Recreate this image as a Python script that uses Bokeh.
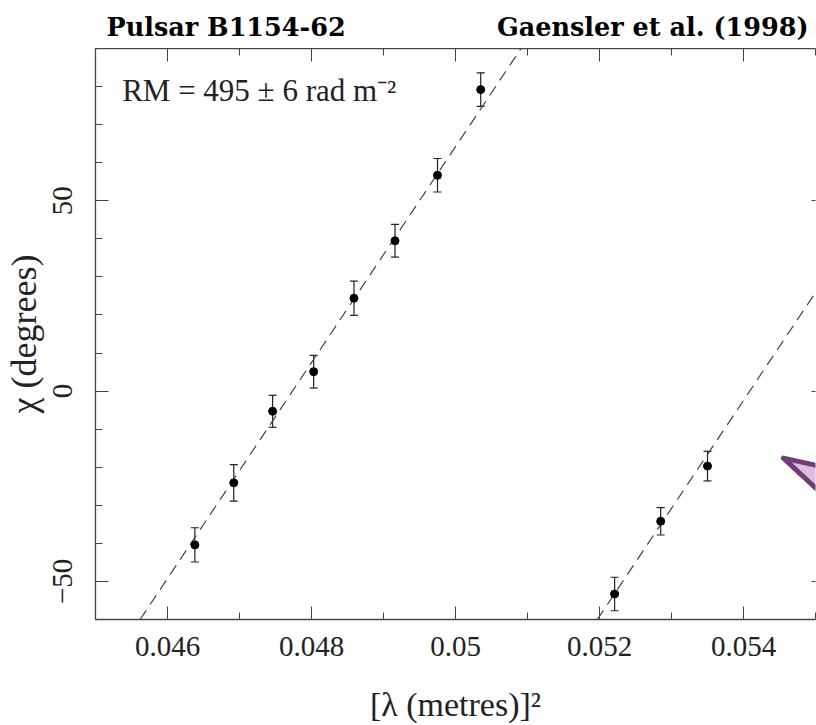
import numpy as np
from bokeh.plotting import figure
from bokeh.layouts import column
from bokeh.models import (ColumnDataSource, Whisker, TeeHead, LinearAxis, Label,
                          SingleIntervalTicker, CustomJSTickFormatter, Range1d)
from bokeh.core.properties import value
from bokeh.embed import file_html
from bokeh.resources import INLINE

# ---- data ----
lam2 = [0.04638, 0.04692, 0.04746, 0.04803, 0.04859, 0.04916, 0.04975, 0.05035,
        0.05221, 0.05285, 0.05350]
chi = [-40.4, -24.1, -5.3, 5.1, 24.4, 39.5, 56.7, 79.2, -53.3, -34.2, -19.7]
chi_err = [4.5, 4.8, 4.2, 4.3, 4.5, 4.3, 4.4, 4.4, 4.4, 3.6, 3.9]

fit1_x = [0.04562, 0.05091]
fit1_y = [-60.0, 90.0]
fit2_x = [0.05197, 0.05530]
fit2_y = [-60.0, 34.4]

arrow_x = [0.054554, 0.05530, 0.05530]
arrow_y = [-17.6, -20.7, -30.7]

title_left = "Pulsar B1154-62"
title_right = "Gaensler et al. (1998)"
rm_text = "RM = 495 \u00b1 6 rad m\u207b\u00b2"
x_label = "[\u03bb (metres)]\u00b2"
y_label = "\u03c7 (degrees)"

SERIF = "Liberation Serif"
TITLE_FONT = "DejaVu Serif"
INK = "#222222"
AX = "#444444"
W = 816
HEAD_H = 48
LEFT = 94
RIGHT_PAD = 1

# ---- header with the two titles (pixel coordinates of the header canvas) ----
head = figure(width=W, height=HEAD_H, output_backend="svg", toolbar_location=None,
              x_range=Range1d(LEFT, W - RIGHT_PAD), y_range=Range1d(0, HEAD_H),
              min_border_left=LEFT, min_border_right=RIGHT_PAD, min_border_top=0,
              min_border_bottom=0, x_axis_location=None, y_axis_location=None)
head.outline_line_color = None
head.xgrid.visible = False
head.ygrid.visible = False
head.text(x=[105], y=[22], text=[title_left], text_font=value(TITLE_FONT),
          text_font_style="bold", text_font_size="25.5px", text_color="black",
          text_baseline="alphabetic", text_align="left")
head.text(x=[808], y=[22], text=[title_right], text_font=value(TITLE_FONT),
          text_font_style="bold", text_font_size="25.5px", text_color="black",
          text_baseline="alphabetic", text_align="right")

# ---- main plot ----
p = figure(width=W, height=725 - HEAD_H, output_backend="svg", toolbar_location=None,
           x_range=Range1d(0.045, 0.055), y_range=Range1d(-60, 90),
           min_border_left=LEFT, min_border_right=RIGHT_PAD, min_border_top=0,
           min_border_bottom=106, x_axis_location=None, y_axis_location=None)
p.background_fill_color = "white"
p.border_fill_color = "white"
p.outline_line_color = None
p.xgrid.visible = False
p.ygrid.visible = False

xt = SingleIntervalTicker(interval=0.002, num_minor_ticks=2)
yt = SingleIntervalTicker(interval=50, num_minor_ticks=5)
xfmt = CustomJSTickFormatter(code="return String(Number(tick.toFixed(4)));")
yfmt = CustomJSTickFormatter(code="return tick.toFixed(0).replace('-', '\u2212');")
blank = CustomJSTickFormatter(code="return '';")

def style_axis(ax, show_labels):
    ax.axis_line_color = AX
    ax.axis_line_width = 1.3
    ax.major_tick_line_color = AX
    ax.minor_tick_line_color = AX
    ax.major_tick_in = 13
    ax.major_tick_out = 0
    ax.minor_tick_in = 7
    ax.minor_tick_out = 0
    if show_labels:
        ax.major_label_text_font = SERIF
        ax.major_label_text_font_size = "29px"
        ax.major_label_text_color = INK
        ax.axis_label_text_font = SERIF
        ax.axis_label_text_font_size = "34px"
        ax.axis_label_text_font_style = "normal"
        ax.axis_label_text_color = INK
    else:
        ax.major_label_text_font_size = "1px"
        ax.major_label_text_color = None
        ax.major_label_standoff = 0

xb = LinearAxis(ticker=xt, formatter=xfmt, axis_label=x_label)
style_axis(xb, True)
xb.major_label_standoff = 17
xb.axis_label_standoff = 27
p.add_layout(xb, "below")

yl = LinearAxis(ticker=yt, formatter=yfmt, axis_label=y_label)
style_axis(yl, True)
yl.major_label_orientation = "vertical"
yl.major_label_standoff = 23
yl.axis_label_standoff = 7
yl.axis_label_text_font_size = "36px"
p.add_layout(yl, "left")

xa = LinearAxis(ticker=xt, formatter=blank)
style_axis(xa, False)
p.add_layout(xa, "above")

yr = LinearAxis(ticker=yt, formatter=blank)
style_axis(yr, False)
yr.axis_line_color = None
yr.major_tick_in = 4
yr.minor_tick_in = 0
p.add_layout(yr, "right")

# fitted lines
p.line(fit1_x, fit1_y, line_color=AX, line_width=1.2, line_dash="11 7")
p.line(fit2_x, fit2_y, line_color=AX, line_width=1.2, line_dash="11 7")

# data with error bars
src = ColumnDataSource(data=dict(
    x=lam2, y=chi,
    upper=[c + e for c, e in zip(chi, chi_err)],
    lower=[c - e for c, e in zip(chi, chi_err)],
))
p.add_layout(Whisker(source=src, base="x", upper="upper", lower="lower",
                     dimension="height", line_color=INK, line_width=1.2,
                     upper_head=TeeHead(size=8, line_color=INK, line_width=1.2),
                     lower_head=TeeHead(size=8, line_color=INK, line_width=1.2)))
p.scatter("x", "y", source=src, size=8, marker="circle", fill_color="black",
          line_color="black")

# purple pointer shape at right edge
p.patch(arrow_x, arrow_y, fill_color="#dcbde0", line_color="#6f3f74",
        line_width=5, line_join="round")

# annotation
p.add_layout(Label(x=0.04537, y=78.9, text=rm_text, text_font=SERIF,
                   text_font_size="31px", text_color=INK,
                   text_baseline="alphabetic"))

layout = column(head, p, spacing=0)
open("out.html", "w").write(file_html(layout, INLINE))
